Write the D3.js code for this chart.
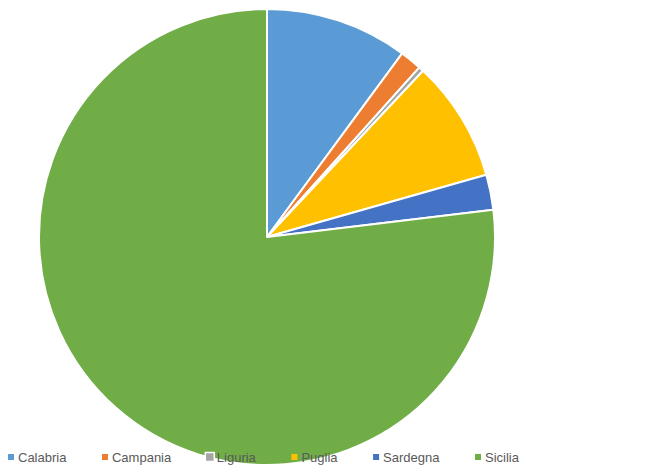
<!DOCTYPE html>
<html>
<head>
<meta charset="utf-8">
<script src="https://cdn.jsdelivr.net/npm/d3@7"></script>
<style>
  body { margin: 0; background: #fff; }
  .legend text { font-family: "Liberation Sans", Arial, sans-serif; font-size: 13px; fill: #595959; }
</style>
</head>
<body>
<div class="chart"></div>
<script>
// DATA ------------------------------
const regions = ["Calabria", "Campania", "Liguria", "Puglia", "Sardegna", "Sicilia"];
const shares = [10.1, 1.55, 0.35, 8.6, 2.5, 76.9];
const colors = ["#5B9BD5", "#ED7D31", "#A5A5A5", "#FFC000", "#4472C4", "#70AD47"];

const data = regions.map((r, i) => ({region: r, value: shares[i], color: colors[i]}));

// CHART INIT ------------------------------
const width = 666, height = 468;
const cx = 267, cy = 237, radius = 228;

const svg = d3.select(".chart").append("svg")
    .attr("width", width)
    .attr("height", height);

const pie = d3.pie()
    .value(d => d.value)
    .sort(null);

const arc = d3.arc()
    .innerRadius(0)
    .outerRadius(radius);

const g = svg.append("g")
    .attr("transform", `translate(${cx},${cy})`);

g.selectAll("path")
    .data(pie(data))
    .enter()
    .append("path")
    .attr("d", arc)
    .attr("fill", d => d.data.color)
    .attr("stroke", "#fff")
    .attr("stroke-width", 2)
    .attr("stroke-linejoin", "round");

// legend
const legend = svg.append("g").attr("class", "legend");
const legendY = 457;
const legendLeft = 8, legendSpan = 511;

const items = legend.selectAll("g")
    .data(data)
    .enter()
    .append("g");

items.append("rect")
    .attr("x", d => d.region === "Liguria" ? -1.5 : 0)
    .attr("y", d => d.region === "Liguria" ? -4.5 : -3)
    .attr("width", d => d.region === "Liguria" ? 9 : 6)
    .attr("height", d => d.region === "Liguria" ? 9 : 6)
    .attr("fill", d => d.color)
    .attr("stroke", d => d.region === "Liguria" ? "#fff" : "none")
    .attr("stroke-width", 1.5);

items.append("text")
    .attr("x", 10)
    .attr("dy", "0.35em")
    .text(d => d.region);

// lay out legend items side by side, spread over the same span as the original
const widths = [];
items.each(function() {
    widths.push(10 + d3.select(this).select("text").node().getComputedTextLength());
});
const gap = (legendSpan - d3.sum(widths)) / (widths.length - 1);
let x = legendLeft;
const offsets = widths.map(w => { const o = x; x += w + gap; return o; });
items.attr("transform", (d, i) => `translate(${offsets[i]},${legendY})`);
</script>
</body>
</html>
